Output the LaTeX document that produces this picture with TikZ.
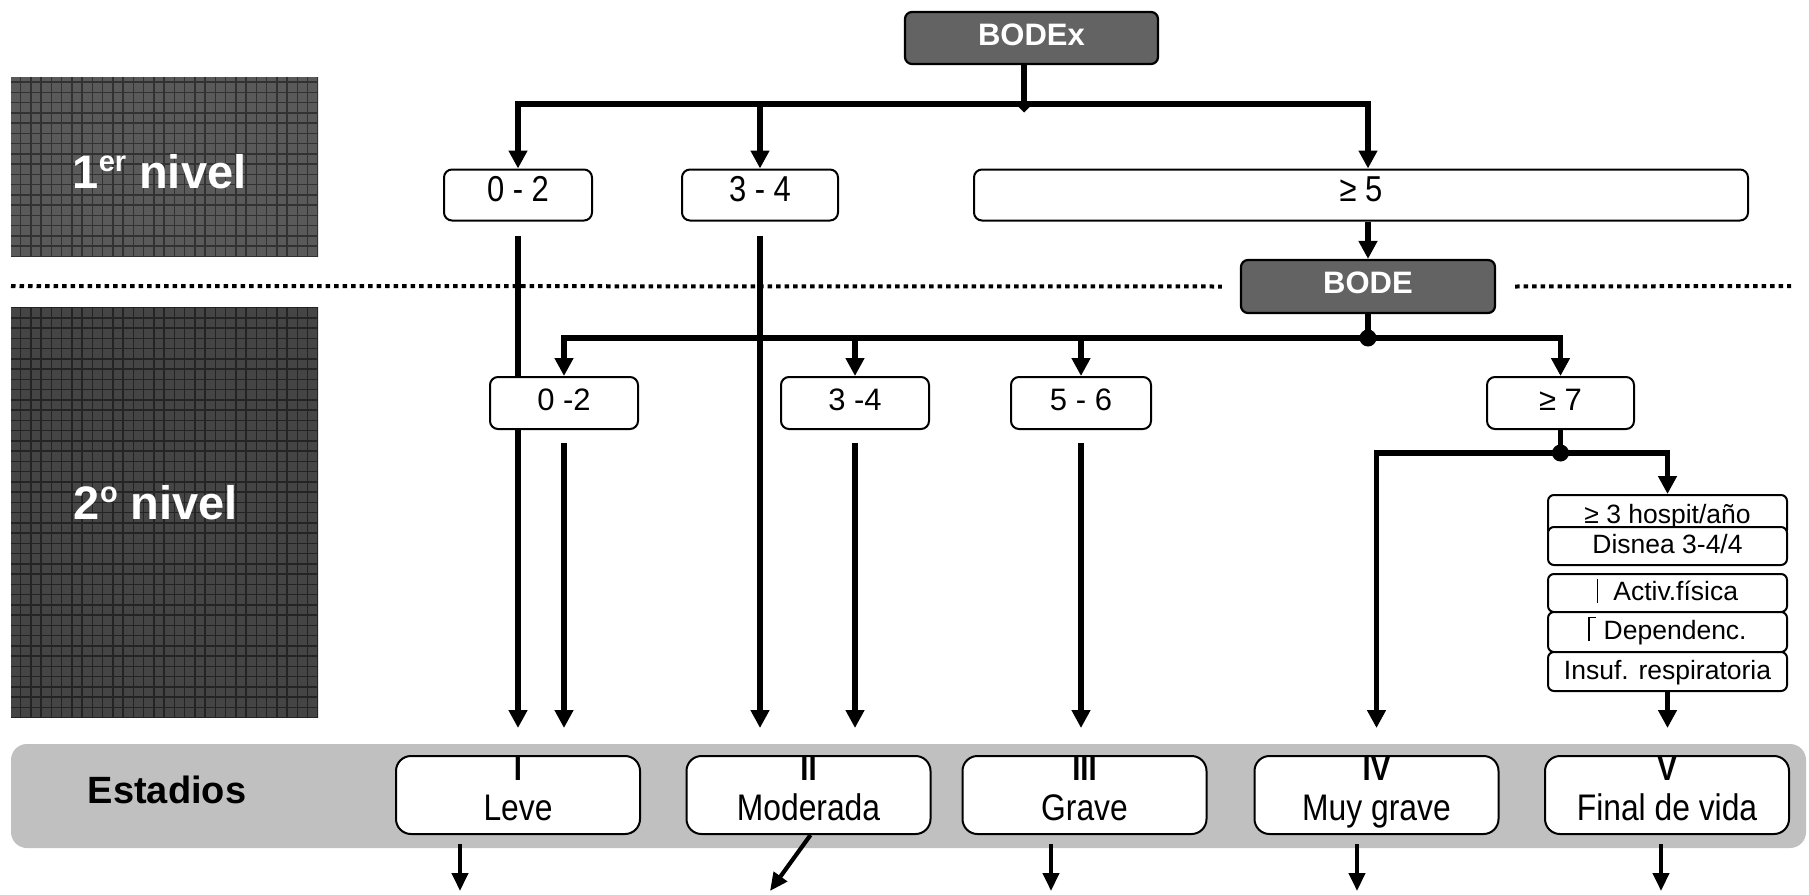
\documentclass[tikz,border=0pt]{standalone}
\usepackage{fontspec}
\setmainfont{Liberation Sans}
\newfontfamily\narrowsans{Liberation Sans}[FakeStretch=0.86]
\usetikzlibrary{arrows.meta}

\definecolor{panelA}{HTML}{5A5A5A}
\definecolor{panelAgrid}{HTML}{323232}
\definecolor{panelB}{HTML}{454545}
\definecolor{panelBgrid}{HTML}{242424}
\definecolor{headfill}{HTML}{636363}
\definecolor{bandgray}{HTML}{C0C0C0}

\pgfdeclarelayer{bg}
\pgfdeclarelayer{lines}
\pgfsetlayers{bg,lines,main}

\tikzset{
  conn/.style={line width=5.5pt, line join=miter},
  arr/.style={conn, -{Triangle[width=18pt,length=18pt]}},
  arrsmall/.style={line width=4.2pt, -{Triangle[width=16pt,length=18pt]}},
  dotline/.style={line width=4pt, dash pattern=on 4.5pt off 4pt},
  headbox/.style={draw, line width=2.2pt, rounded corners=7pt, fill=headfill,
    text=white, inner sep=0pt, minimum height=52pt,
    font=\fontsize{31}{36}\selectfont\bfseries, text height=22pt, text depth=8pt},
  lvlone/.style={draw, line width=2pt, rounded corners=8pt, fill=white,
    inner sep=0pt, minimum height=51pt,
    font=\narrowsans\fontsize{36}{40}\selectfont, text height=26pt, text depth=13pt},
  lvltwo/.style={draw, line width=2pt, rounded corners=8pt, fill=white,
    inner sep=0pt, minimum height=52pt,
    font=\fontsize{31}{36}\selectfont, text height=22pt, text depth=8pt},
  stackbox/.style={draw, line width=2pt, rounded corners=6pt, fill=white,
    inner sep=0pt, minimum width=239pt,
    font=\fontsize{26.5}{30}\selectfont, text height=19pt, text depth=4pt},
  stagebox/.style={draw, line width=2pt, rounded corners=15pt, fill=white,
    inner sep=0pt, minimum width=244pt, minimum height=78pt},
  stagetxt/.style={inner sep=0pt, font=\narrowsans\fontsize{37}{40}\selectfont,
    text height=26.5pt, text depth=0pt},
  numtxt/.style={inner sep=0pt, font=\narrowsans\fontsize{34}{38}\selectfont\bfseries,
    text height=24pt, text depth=0pt},
  paneltxt/.style={inner sep=0pt, text=white, font=\fontsize{47}{50}\selectfont\bfseries,
    text height=33.5pt, text depth=0pt},
  bandtxt/.style={inner sep=0pt, font=\fontsize{38}{40}\selectfont\bfseries,
    text height=27.5pt, text depth=0pt},
  bandstyle/.style={fill=bandgray, rounded corners=16pt, inner sep=0pt},
}

\newcommand{\supsm}[1]{\raisebox{17pt}{\fontsize{29}{30}\selectfont #1}}

\begin{document}
\begin{tikzpicture}[x=1pt, y=-1pt]
\useasboundingbox (0,0) rectangle (1809,894);

% ---------- boxes ----------
\node[headbox, minimum width=253pt] (bodex) at (1031.5,38) {BODEx};

\node[lvlone, minimum width=148pt] (l1a) at (518,195) {0 - 2};
\node[lvlone, minimum width=156pt] (l1b) at (760,195) {3 - 4};
\node[lvlone, minimum width=774pt] (l1c) at (1361,195) {≥ 5};

\node[headbox, minimum width=254pt, minimum height=53pt] (bode) at (1368,286.5) {BODE};

\node[lvltwo, minimum width=148pt] (l2a) at (564,403) {0 -2};
\node[lvltwo, minimum width=148pt] (l2b) at (855,403) {3 -4};
\node[lvltwo, minimum width=140pt] (l2c) at (1081,403) {5 - 6};
\node[lvltwo, minimum width=147pt] (l2d) at (1560.5,403) {≥ 7};

% criteria stack
\node[stackbox, minimum height=41pt] (s1) at (1667.5,515.5) {≥ 3 hospit/año};
\node[stackbox, minimum height=38pt] (s2) at (1667.5,546) {Disnea 3-4/4};
\node[stackbox, minimum height=38pt] (s3) at (1667.5,593)
  {\rule[-2pt]{1.3pt}{24pt}\hspace{15pt}Activ.física};
\node[stackbox, minimum height=40pt] (s4) at (1667.5,632)
  {\rule[-1pt]{1.3pt}{24pt}\rule[21.7pt]{6pt}{1.2pt}\hspace{8pt}Dependenc.};
\node[stackbox, minimum height=39pt] (s5) at (1667.5,671.5) {Insuf. respiratoria};

% stages
\node[stagebox] (st1) at (518,795) {};
\node[stagebox] (st2) at (808.5,795) {};
\node[stagebox] (st3) at (1084.5,795) {};
\node[stagebox] (st4) at (1376.5,795) {};
\node[stagebox] (st5) at (1667,795) {};

\foreach \s/\r/\t in {st1/I/Leve, st2/II/Moderada, st3/III/Grave,
                      st4/IV/Muy grave, st5/V/Final de vida}{
  \node[numtxt, anchor=north] (\s num) at ([yshift=-1pt]\s.north) {\r};
  \node[stagetxt] (\s lab) at ([yshift=-12pt]\s.center) {\t};
}

% ---------- background: side panels, band, dotted separator ----------
\begin{pgfonlayer}{bg}
  \fill[white] (0,0) rectangle (1809,894);
  \fill[panelA] (11,77) rectangle (318,257);
  \begin{scope}
    \clip (11,77) rectangle (318,257);
    \draw[panelAgrid, line width=1.5pt, step=10.25pt] (11,77) grid (318,257);
  \end{scope}
  \fill[panelB] (11,307) rectangle (318,718);
  \begin{scope}
    \clip (11,307) rectangle (318,718);
    \draw[panelBgrid, line width=1.5pt, step=10.25pt] (11,307) grid (318,718);
  \end{scope}
  \node[bandstyle, minimum width=1795pt, minimum height=104pt] (band) at (908.5,796) {};
  \coordinate (dl) at (11,286);
  \coordinate (dr) at (1791,286);
  \draw[dotline] (dl) -- ([xshift=-18pt]bode.west);
  \draw[dotline] ([xshift=19pt]bode.east) -- (dr);
\end{pgfonlayer}

\node[paneltxt] (p1) at (159.5,171.5) {1\supsm{er} nivel};
\node[paneltxt] (p2) at (156,503) {2\supsm{o} nivel};
\node[bandtxt] (estadios) at (167,790) {Estadios};

% ---------- connectors ----------
\begin{pgfonlayer}{lines}
  % BODEx split
  \coordinate (j1) at (1024,104);
  \draw[conn] (bodex.south -| j1) -- (j1);
  \draw[arr] (j1) -| (l1a.north);
  \draw[arr] (j1 -| l1b.north) -- (l1b.north);
  \draw[arr] (j1) -| (l1c.north -| bode.north);
  \fill (j1) +(-6.5,2) -- +(0,-4.5) -- +(6.5,2) -- +(0,8.5) -- cycle;
  \draw[arr] (l1c.south -| bode.north) -- (bode.north);

  % BODE split
  \coordinate (j2) at (1368,338);
  \draw[conn] (bode.south) -- (j2);
  \draw[arr] (j2) -| (l2a.north);
  \draw[arr] (j2) -| (l2d.north);
  \draw[arr] (j2 -| l2b.north) -- (l2b.north);
  \draw[arr] (j2 -| l2c.north) -- (l2c.north);
  \fill (j2) circle (8.5pt);

  % >= 7 split
  \coordinate (j3) at (1560.5,453);
  \draw[conn] (l2d.south) -- (j3);
  \draw[arr] (j3) -| (s1.north);
  \draw[arr, shorten >=27pt] (j3) -| (st4.north);
  \fill (j3) circle (8.5pt);

  % into the stages
  \draw[arr, shorten <=14pt, shorten >=27pt] (l1a.south) -- (l1a.south |- st1.north);
  \draw[arr, shorten <=13pt, shorten >=27pt] (l2a.south) -- (l2a.south |- st1.north);
  \draw[arr, shorten <=14pt, shorten >=27pt] (l1b.south) -- (l1b.south |- st2.north);
  \draw[arr, shorten <=13pt, shorten >=27pt] (l2b.south) -- (l2b.south |- st2.north);
  \draw[arr, shorten <=13pt, shorten >=27pt] (l2c.south) -- (l2c.south |- st3.north);
  \draw[arr, shorten >=27pt] (s5.south) -- (s5.south |- st5.north);

  % out of the stages
  \coordinate (e1) at (460,891);
  \coordinate (e2) at (770,891);
  \coordinate (e3) at (1051,891);
  \coordinate (e4) at (1357,891);
  \coordinate (e5) at (1661,891);
  \draw[arrsmall, shorten <=9pt] (st1.south -| e1) -- (e1);
  \draw[arrsmall] ([xshift=2pt]st2.south) -- (e2);
  \draw[arrsmall, shorten <=9pt] (st3.south -| e3) -- (e3);
  \draw[arrsmall, shorten <=9pt] (st4.south -| e4) -- (e4);
  \draw[arrsmall, shorten <=9pt] (st5.south -| e5) -- (e5);
\end{pgfonlayer}
\end{tikzpicture}
\end{document}
